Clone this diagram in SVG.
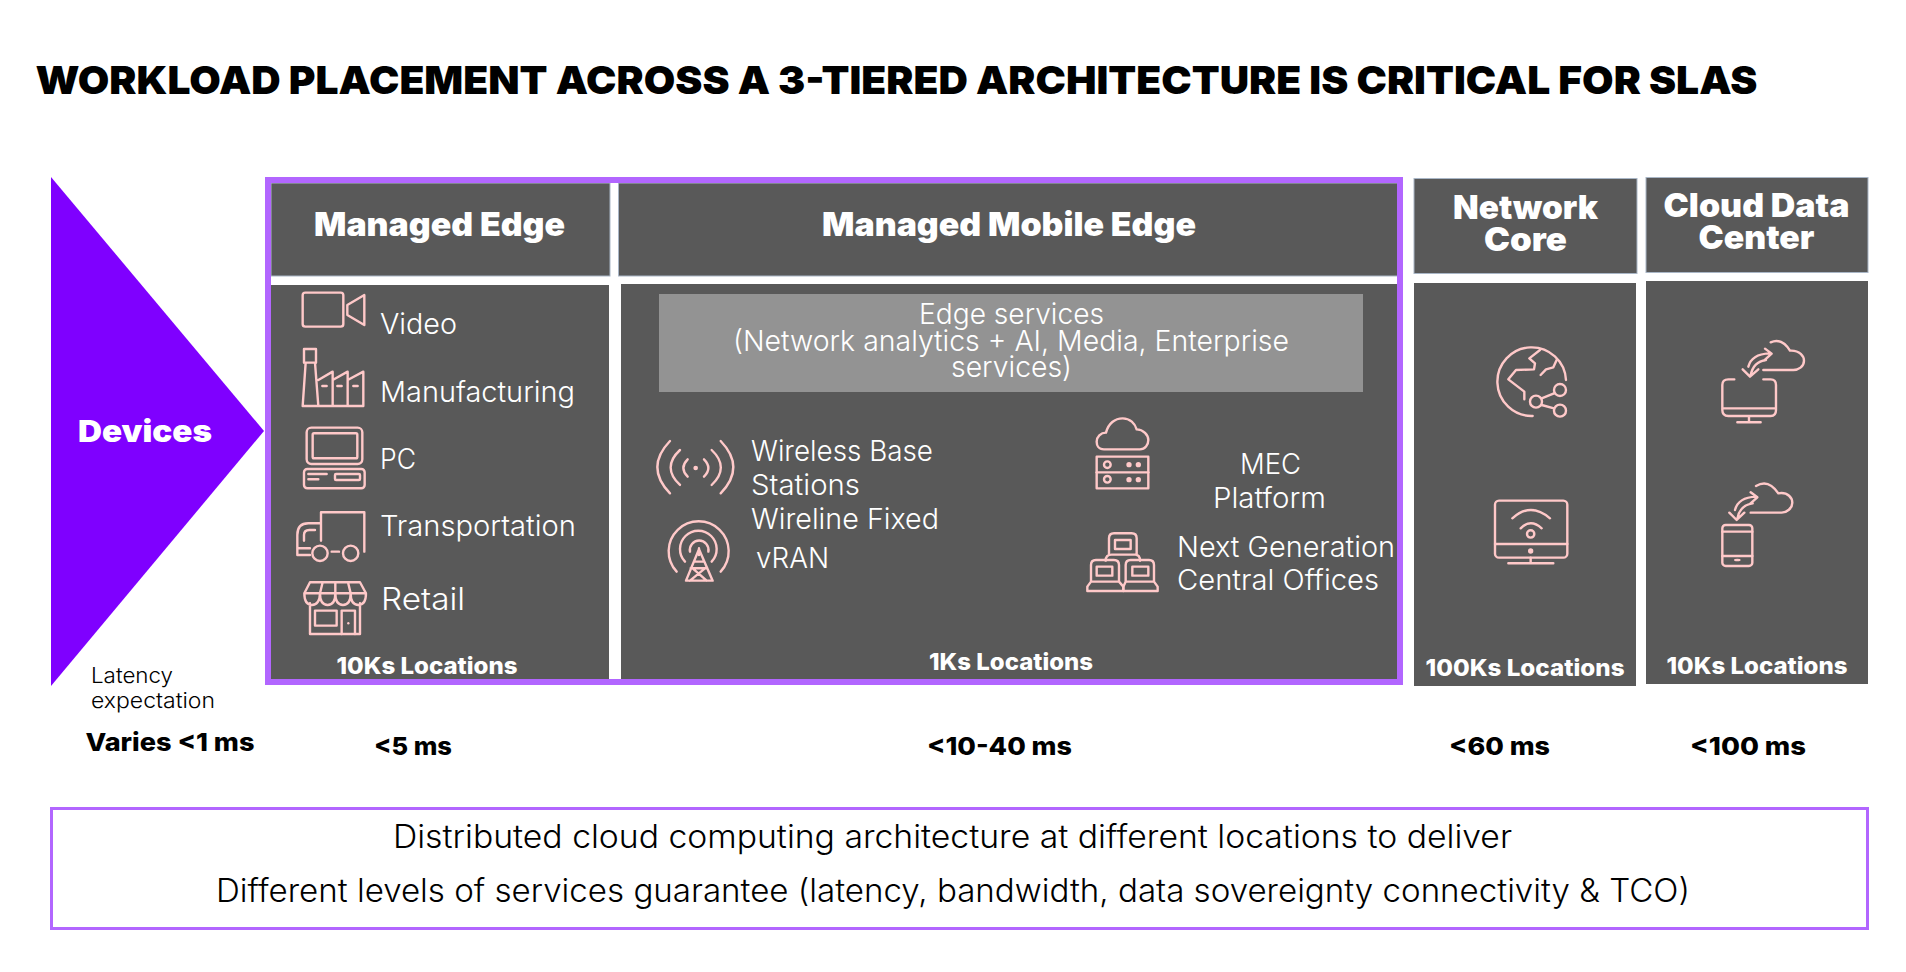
<svg xmlns="http://www.w3.org/2000/svg" width="1906" height="972" viewBox="0 0 1906 972">
<style>
text{font-family:Inter,"Liberation Sans",sans-serif}
.h{font-weight:900;fill:#fff;font-size:33px;text-anchor:start}
.loc{font-weight:800;fill:#fff;font-size:23px}
.t{font-weight:350;fill:#fff;font-size:28.500px}
.lat{font-weight:800;fill:#000;font-size:25px}
.b{font-weight:350;fill:#000;font-size:32px}
.panel{fill:#595959}
.hdr{fill:#595959;stroke:#a9b6c6;stroke-width:1}
.ic{fill:none;stroke:#ffc9c9;stroke-width:7.200;stroke-linecap:round;stroke-linejoin:round}
.ic .f{fill:#ffc9c9;stroke:none}
</style>
<rect width="1906" height="972" fill="#fff"/>
<text id="title" x="35.500" y="94" style="font-weight:900;font-size:39px;fill:#000" textLength="1722" lengthAdjust="spacingAndGlyphs">WORKLOAD PLACEMENT ACROSS A 3-TIERED ARCHITECTURE IS CRITICAL FOR SLAS</text>

<g id="devices">
<polygon points="51,177 264,431 51,686" fill="#7f00ff"/>
<text x="78" y="442" style="font-weight:900;font-size:30px;fill:#fff" textLength="134" lengthAdjust="spacingAndGlyphs">Devices</text>
<text class="lat" x="91" y="683" style="font-weight:350;font-size:22px" textLength="82" lengthAdjust="spacingAndGlyphs">Latency</text>
<text class="lat" x="91" y="708" style="font-weight:350;font-size:22px" textLength="124" lengthAdjust="spacingAndGlyphs">expectation</text>
<text class="lat" x="85.500" y="751" textLength="169" lengthAdjust="spacingAndGlyphs">Varies &lt;1 ms</text>
</g>

<g id="managed-edge">
<rect class="hdr" x="271" y="183" width="339" height="93"/>
<rect class="panel" x="271" y="285" width="338" height="394"/>
<text class="h" x="314" y="236" textLength="251" lengthAdjust="spacingAndGlyphs">Managed Edge</text>
<text class="t" x="380" y="334" textLength="77" lengthAdjust="spacingAndGlyphs">Video</text>
<text class="t" x="380" y="402" textLength="195" lengthAdjust="spacingAndGlyphs">Manufacturing</text>
<text class="t" x="380" y="469" textLength="36" lengthAdjust="spacingAndGlyphs">PC</text>
<text class="t" x="380" y="536" textLength="196" lengthAdjust="spacingAndGlyphs">Transportation</text>
<text class="t" x="381" y="610" style="font-size:31px" textLength="84" lengthAdjust="spacingAndGlyphs">Retail</text>
<text class="loc" x="336.500" y="674" textLength="181" lengthAdjust="spacingAndGlyphs">10Ks Locations</text>
<text class="lat" x="374" y="755" textLength="78" lengthAdjust="spacingAndGlyphs">&lt;5 ms</text>
<g class="ic" transform="translate(260 170) scale(.3333)">
<rect x="128" y="368" width="122" height="102" rx="8"/>
<path d="M262 405L313 375V465L262 435Z"/>
<path d="M132 578V537H168V578M128 708L137 578H165L175 708M128 708H310V605L263 630V708M263 630V605L218 630V708M218 630V605L175 630M187 648H200M232 648H245M280 648H293"/>
<rect x="140" y="773" width="167" height="109" rx="14"/>
<rect x="158" y="790" width="134" height="75" rx="4"/>
<rect x="132" y="897" width="182" height="58" rx="10"/>
<path d="M145 912H200M145 928H175"/>
<rect x="225" y="912" width="75" height="18" rx="3"/>
<path d="M183 1112V1027H313V1145M183 1060H145Q112 1060 112 1095V1155H150M165 1080H148Q132 1080 132 1095V1112M112 1135H150M215 1145H237"/>
<circle cx="180" cy="1150" r="23"/><circle cx="272" cy="1150" r="23"/>
<path d="M150 1237H300L318 1270H133ZM133 1270Q133 1305 156 1305T180 1270M180 1270Q180 1305 203 1305T226 1270Q226 1305 249 1305T272 1270Q272 1305 295 1305T318 1270M188 1237L180 1270M226 1237V1270M264 1237L272 1270M150 1300V1392H300V1300"/>
<rect x="165" y="1322" width="65" height="45"/>
<path d="M245 1392V1322H285V1392"/>
<circle class="f" cx="265" cy="1360" r="3.500"/>
</g>
</g>

<g id="managed-mobile-edge">
<rect class="hdr" x="618.500" y="183" width="779.500" height="93"/>
<rect class="panel" x="621" y="284" width="776" height="395"/>
<rect id="edge-services" x="659" y="294" width="704" height="98" fill="#939393"/>
<text class="h" x="822" y="236" textLength="374" lengthAdjust="spacingAndGlyphs">Managed Mobile Edge</text>
<text class="t" x="919" y="324" textLength="185" lengthAdjust="spacingAndGlyphs">Edge services</text>
<text class="t" x="733" y="351" textLength="556" lengthAdjust="spacingAndGlyphs">(Network analytics + AI, Media, Enterprise</text>
<text class="t" x="951" y="377" textLength="121" lengthAdjust="spacingAndGlyphs">services)</text>
<text class="t" x="751" y="461" textLength="182" lengthAdjust="spacingAndGlyphs">Wireless Base</text>
<text class="t" x="751" y="495" textLength="109" lengthAdjust="spacingAndGlyphs">Stations</text>
<text class="t" x="751" y="529" textLength="188" lengthAdjust="spacingAndGlyphs">Wireline Fixed</text>
<text class="t" x="756" y="568" textLength="73" lengthAdjust="spacingAndGlyphs">vRAN</text>
<text class="t" x="1240" y="474" textLength="61" lengthAdjust="spacingAndGlyphs">MEC</text>
<text class="t" x="1213" y="508" textLength="113" lengthAdjust="spacingAndGlyphs">Platform</text>
<text class="t" x="1177" y="557" textLength="218" lengthAdjust="spacingAndGlyphs">Next Generation</text>
<text class="t" x="1177" y="590" textLength="202" lengthAdjust="spacingAndGlyphs">Central Offices</text>
<text class="loc" x="929" y="670" textLength="164" lengthAdjust="spacingAndGlyphs">1Ks Locations</text>
<text class="lat" x="927" y="755" textLength="145" lengthAdjust="spacingAndGlyphs">&lt;10-40 ms</text>
<g class="ic" transform="translate(650 430) scale(.3333)">
<circle class="f" cx="137" cy="114" r="7"/>
<path d="M113 88Q87 114 113 140M162 88Q188 114 162 140M90 60Q34 112 90 165M185 60Q240 112 185 165M60 33Q-16 112 60 190M212 33Q288 112 212 190"/>
<path d="M80 425A90 90 0 1 1 212 425M105 395A55 55 0 1 1 185 395M120 365A28 28 0 1 1 175 365"/>
<path d="M147 355V375M147 358L108 452H188L147 358M133 395H161M122 415H172M128 415L170 452M165 415L120 452"/>
</g>
<g class="ic" transform="translate(1080 410) scale(.3333)">
<path d="M72 118C55 118 50 105 50 95C50 80 62 68 78 68C85 40 105 25 128 25C150 25 165 40 170 58C190 58 205 75 205 90C205 105 195 118 180 118Z"/>
<rect x="50" y="140" width="155" height="95"/>
<path d="M50 187H205"/>
<circle cx="82" cy="164" r="10"/><circle cx="82" cy="208" r="10"/>
<circle class="f" cx="147" cy="164" r="8"/><circle class="f" cx="175" cy="164" r="8"/><circle class="f" cx="147" cy="209" r="8"/><circle class="f" cx="175" cy="209" r="8"/>
<path d="M87 435V385Q87 370 102 370H155Q170 370 170 385V435M77 452Q77 434 95 434H165Q180 434 180 452"/>
<rect x="105" y="390" width="47" height="27"/>
<path d="M33 515V465Q33 450 48 450H102Q117 450 117 465V515M22 543V530L33 515H117L130 530V543Z"/>
<rect x="50" y="470" width="47" height="27"/>
<path d="M137 515V465Q137 450 152 450H207Q222 450 222 465V515M130 543V530L137 515H222L233 530V543Z"/>
<rect x="157" y="470" width="48" height="27"/>
</g>
</g>

<rect id="edge-frame" x="268" y="180" width="1132" height="502" fill="none" stroke="#b266ff" stroke-width="6"/>

<g id="network-core">
<rect class="hdr" x="1414" y="178.500" width="223" height="95"/>
<rect class="panel" x="1414" y="283" width="222" height="403"/>
<text class="h" x="1453" y="219" textLength="145" lengthAdjust="spacingAndGlyphs">Network</text>
<text class="h" x="1484" y="251" textLength="83" lengthAdjust="spacingAndGlyphs">Core</text>
<text class="loc" x="1425.500" y="676" textLength="199" lengthAdjust="spacingAndGlyphs">100Ks Locations</text>
<text class="lat" x="1449" y="755" textLength="101" lengthAdjust="spacingAndGlyphs">&lt;60 ms</text>
<g class="ic" transform="translate(1480 330) scale(.3333)">
<path d="M158 258A103 103 0 1 1 258 150"/>
<path d="M180 60L148 85L165 100L162 118L108 120L85 148L133 185V208M230 90L220 112L198 118L182 135"/>
<circle cx="240" cy="180" r="18"/><circle cx="168" cy="215" r="18"/><circle cx="240" cy="242" r="18"/>
<path d="M185 205L222 190M185 225L222 235"/>
<rect x="45" y="512" width="217" height="171" rx="12"/>
<path d="M45 642H262M152 683V700M85 700H220M97 565Q152 515 210 565M122 595Q152 565 185 595"/>
<circle cx="152" cy="612" r="11"/>
<circle class="f" cx="152" cy="663" r="8"/>
</g>
</g>

<g id="cloud-data-center">
<rect class="hdr" x="1646" y="177.500" width="222" height="95"/>
<rect class="panel" x="1646" y="281" width="222" height="403"/>
<text class="h" x="1663.500" y="217" textLength="186" lengthAdjust="spacingAndGlyphs">Cloud Data</text>
<text class="h" x="1698.500" y="249" textLength="116" lengthAdjust="spacingAndGlyphs">Center</text>
<text class="loc" x="1666.500" y="674" textLength="181" lengthAdjust="spacingAndGlyphs">10Ks Locations</text>
<text class="lat" x="1690" y="755" textLength="116" lengthAdjust="spacingAndGlyphs">&lt;100 ms</text>
<g class="ic" transform="translate(1700 330) scale(.3333)">
<path d="M212 37Q245 22 270 62C300 60 312 80 312 92C312 110 295 120 280 120H190"/>
<path d="M145 110Q155 72 208 70M195 56L215 71L192 92M198 90Q160 95 152 136M128 118L150 140L175 118"/>
<path d="M103 148H85Q67 148 67 165V240Q67 258 85 258H212Q228 258 228 240V165Q228 148 212 148H190M67 235H228M147 258V275M112 277H182"/>
<path d="M168 468Q205 445 235 490C265 485 277 505 277 518C277 535 260 548 245 548H152"/>
<path d="M105 540Q115 502 168 500M152 487L172 502L150 522M158 520Q120 525 112 566M88 548L110 570L133 548"/>
<rect x="67" y="585" width="90" height="123" rx="10"/>
<path d="M67 605H157M67 678H157"/>
<ellipse class="f" cx="112" cy="690" rx="10" ry="4"/>
</g>
</g>

<g id="summary">
<rect x="51.500" y="808.500" width="1816" height="120" fill="none" stroke="#b266ff" stroke-width="3"/>
<text class="b" x="393" y="848" textLength="1119" lengthAdjust="spacingAndGlyphs">Distributed cloud computing architecture at different locations to deliver</text>
<text class="b" x="216" y="902" textLength="1474" lengthAdjust="spacingAndGlyphs">Different levels of services guarantee (latency, bandwidth, data sovereignty connectivity &amp; TCO)</text>
</g>
</svg>
